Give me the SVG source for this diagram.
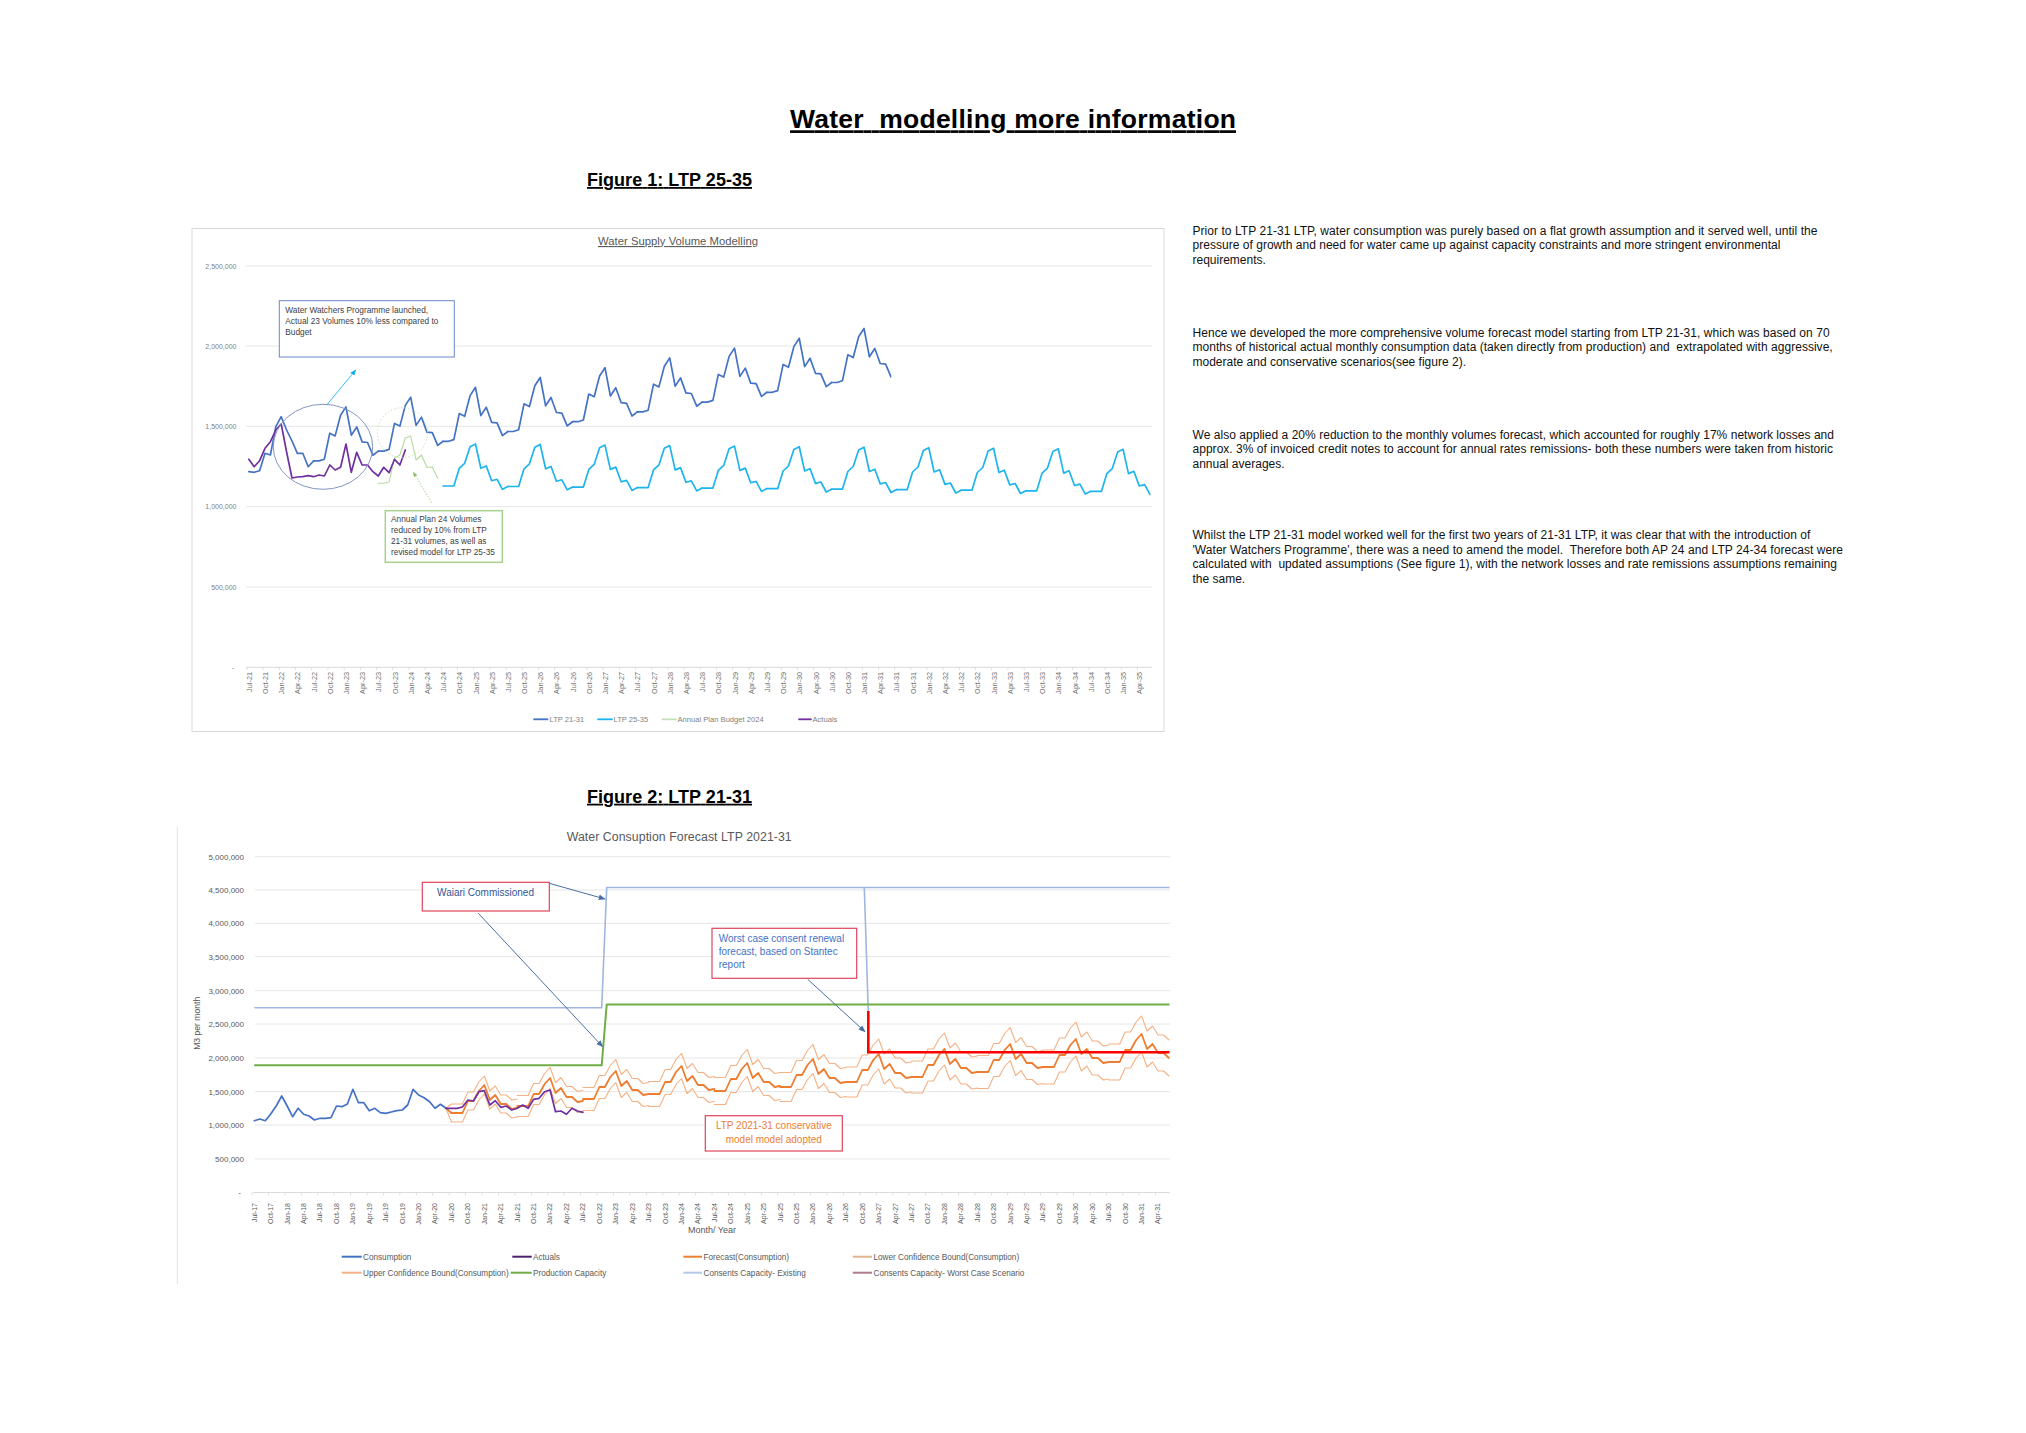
<svg xmlns="http://www.w3.org/2000/svg" width="2026" height="1433" viewBox="0 0 2026 1433">
<style>
text{font-family:"Liberation Sans",Arial,sans-serif;}
.h1{font-size:26.5px;font-weight:bold;text-decoration:underline;fill:#000;}
.cap{font-size:18px;font-weight:bold;text-decoration:underline;fill:#000;}
.body{font-size:12px;fill:#111;}
.yl1{font-size:7px;fill:#7F7F7F;text-anchor:end;}
.xl1{font-size:7.3px;fill:#6F6F6F;text-anchor:end;}
.yl2{font-size:8px;fill:#595959;text-anchor:end;}
.xl2{font-size:7px;fill:#595959;text-anchor:end;}
.lg1{font-size:7.6px;fill:#7F7F7F;}
.lg2{font-size:8.2px;fill:#595959;}
.grid{stroke:#E6E6E6;stroke-width:1;fill:none;}
.ln{fill:none;stroke-linejoin:round;stroke-linecap:round;}
.lb{stroke:#4472C4;stroke-width:1.7;}
.lc{stroke:#1EB4EE;stroke-width:1.7;}
.lgr{stroke:#B5D99C;stroke-width:1.1;}
.lp{stroke:#7030A0;stroke-width:1.7;}
.fc{stroke:#ED7D31;stroke-width:1.8;}
.ub{stroke:#F4B183;stroke-width:1.1;}
.an1{font-size:8.3px;fill:#404040;}
.an2{font-size:10px;}
.rbox{fill:#fff;stroke:#E0435A;stroke-width:1.2;}
.arr{stroke:#4A6FA5;stroke-width:1;fill:none;}
</style>
<defs>
<marker id="aC" markerUnits="userSpaceOnUse" markerWidth="6" markerHeight="6" viewBox="0 0 10 10" refX="9" refY="5" orient="auto"><path d="M0,1L10,5L0,9z" fill="#00B0F0"/></marker>
<marker id="aG" markerUnits="userSpaceOnUse" markerWidth="5" markerHeight="5" viewBox="0 0 10 10" refX="9" refY="5" orient="auto"><path d="M0,1L10,5L0,9z" fill="#8CC068"/></marker>
<marker id="aB" markerUnits="userSpaceOnUse" markerWidth="7" markerHeight="7" viewBox="0 0 10 10" refX="9" refY="5" orient="auto"><path d="M0,1L10,5L0,9z" fill="#4A6FA5"/></marker>
<path id="p1b" d="M0,54 L5.4,54 L10.79,52.3 L16.19,26.3 L21.59,29 L26.99,8.3 L32.38,0 L37.78,28.3 L43.18,20 L48.57,35 L53.97,35.6 L59.37,48.3 L64.76,44.2"/>
<path id="p1c" d="M0,42 L5.4,42 L10.79,42 L16.19,24.3 L21.59,19.3 L26.99,2.7 L32.38,0 L37.78,24.3 L43.18,22 L48.57,36.7 L53.97,35.3 L59.37,45.3 L64.76,42.5"/>
<path id="p2f" d="M0,28 L5.48,28 L10.95,28 L16.43,16 L21.91,16 L27.39,6 L32.86,0 L38.34,15 L43.82,10 L49.29,19 L54.77,19 L60.25,24 L65.72,23"/>
<clipPath id="cB1"><rect x="240" y="230" width="651.3" height="440"/></clipPath>
<clipPath id="cC1"><rect x="240" y="230" width="910.5" height="440"/></clipPath>
<clipPath id="cF2"><rect x="250" y="850" width="919.5" height="345"/></clipPath>
</defs>
<rect width="2026" height="1433" fill="#fff"/>

<g id="title">
<text class="h1" x="790" y="128.3" textLength="446" xml:space="preserve">Water  modelling more information</text>
</g>

<g id="fig1">
<text class="cap" x="587" y="186" textLength="165">Figure 1: LTP 25-35</text>
<rect x="192" y="228.5" width="972" height="503" fill="#fff" stroke="#D9D9D9" stroke-width="1"/>
<text x="678" y="245" font-size="11.3" fill="#595959" text-anchor="middle" text-decoration="underline" textLength="160">Water Supply Volume Modelling</text>
<g id="fig1-grid">
<path class="grid" d="M246,266H1152M246,346H1152M246,426.3H1152M246,506.7H1152M246,587H1152"/>
<line x1="246" y1="667.3" x2="1152" y2="667.3" stroke="#D9D9D9" stroke-width="1"/>
<line x1="246.6" y1="668.8" x2="1152" y2="668.8" stroke="#D9D9D9" stroke-width="3" stroke-dasharray="0.8 15.39"/>
</g>
<g id="fig1-ylabels">
<text class="yl1" x="236.5" y="268.5">2,500,000</text>
<text class="yl1" x="236.5" y="348.5">2,000,000</text>
<text class="yl1" x="236.5" y="428.8">1,500,000</text>
<text class="yl1" x="236.5" y="509.2">1,000,000</text>
<text class="yl1" x="236.5" y="589.5">500,000</text>
<text class="yl1" x="234" y="669.8">-</text>
</g>
<g id="fig1-xlabels" class="xl1" transform="rotate(-90)">
<text x="-672" y="251.8">Jul-21</text><text x="-672" y="268">Oct-21</text><text x="-672" y="284.2">Jan-22</text><text x="-672" y="300.4">Apr-22</text>
<text x="-672" y="316.6">Jul-22</text><text x="-672" y="332.8">Oct-22</text><text x="-672" y="348.9">Jan-23</text><text x="-672" y="365.1">Apr-23</text>
<text x="-672" y="381.3">Jul-23</text><text x="-672" y="397.5">Oct-23</text><text x="-672" y="413.7">Jan-24</text><text x="-672" y="429.9">Apr-24</text>
<text x="-672" y="446.1">Jul-24</text><text x="-672" y="462.3">Oct-24</text><text x="-672" y="478.5">Jan-25</text><text x="-672" y="494.6">Apr-25</text>
<text x="-672" y="510.8">Jul-25</text><text x="-672" y="527">Oct-25</text><text x="-672" y="543.2">Jan-26</text><text x="-672" y="559.4">Apr-26</text>
<text x="-672" y="575.6">Jul-26</text><text x="-672" y="591.8">Oct-26</text><text x="-672" y="608">Jan-27</text><text x="-672" y="624.2">Apr-27</text>
<text x="-672" y="640.4">Jul-27</text><text x="-672" y="656.5">Oct-27</text><text x="-672" y="672.7">Jan-28</text><text x="-672" y="688.9">Apr-28</text>
<text x="-672" y="705.1">Jul-28</text><text x="-672" y="721.3">Oct-28</text><text x="-672" y="737.5">Jan-29</text><text x="-672" y="753.7">Apr-29</text>
<text x="-672" y="769.9">Jul-29</text><text x="-672" y="786.1">Oct-29</text><text x="-672" y="802.3">Jan-30</text><text x="-672" y="818.5">Apr-30</text>
<text x="-672" y="834.6">Jul-30</text><text x="-672" y="850.8">Oct-30</text><text x="-672" y="867">Jan-31</text><text x="-672" y="883.2">Apr-31</text>
<text x="-672" y="899.4">Jul-31</text><text x="-672" y="915.6">Oct-31</text><text x="-672" y="931.8">Jan-32</text><text x="-672" y="948">Apr-32</text>
<text x="-672" y="964.2">Jul-32</text><text x="-672" y="980.4">Oct-32</text><text x="-672" y="996.5">Jan-33</text><text x="-672" y="1012.7">Apr-33</text>
<text x="-672" y="1028.9">Jul-33</text><text x="-672" y="1045.1">Oct-33</text><text x="-672" y="1061.3">Jan-34</text><text x="-672" y="1077.5">Apr-34</text>
<text x="-672" y="1093.7">Jul-34</text><text x="-672" y="1109.9">Oct-34</text><text x="-672" y="1126.1">Jan-35</text><text x="-672" y="1142.2">Apr-35</text>
</g>
<g id="fig1-series">
<g class="ln lc" clip-path="url(#cC1)">
<use href="#p1c" transform="translate(443.08,444)"/>
<use href="#p1c" transform="translate(507.84,444.5)"/>
<use href="#p1c" transform="translate(572.6,445.1)"/>
<use href="#p1c" transform="translate(637.36,445.6)"/>
<use href="#p1c" transform="translate(702.12,446.1)"/>
<use href="#p1c" transform="translate(766.88,446.7)"/>
<use href="#p1c" transform="translate(831.64,447.2)"/>
<use href="#p1c" transform="translate(896.4,447.7)"/>
<use href="#p1c" transform="translate(961.16,448.2)"/>
<use href="#p1c" transform="translate(1025.92,448.8)"/>
<use href="#p1c" transform="translate(1090.68,449.3)"/>
</g>
<polyline class="ln lgr" points="378.3,483.3 383.7,483.3 389.1,482 394.5,458 399.9,455 405.3,438 410.7,436 416.1,460 421.5,455 426.9,467.3 432.3,467 437.7,478.3"/>
<g class="ln lb" clip-path="url(#cB1)">
<polyline points="248.8,471.7 254.2,472.3 259.6,470.7 265,453.3 270.4,455 275.8,426.7 281.2,416.7 286.6,430 292,441 297.4,453.3 302.8,453.3 308.2,466.7 313.6,461"/>
<use href="#p1b" transform="translate(313.56,406.9)"/>
<use href="#p1b" transform="translate(378.32,397.1)"/>
<use href="#p1b" transform="translate(443.08,387.3)"/>
<use href="#p1b" transform="translate(507.84,377.5)"/>
<use href="#p1b" transform="translate(572.6,367.7)"/>
<use href="#p1b" transform="translate(637.36,357.9)"/>
<use href="#p1b" transform="translate(702.12,348.1)"/>
<use href="#p1b" transform="translate(766.88,338.3)"/>
<use href="#p1b" transform="translate(831.64,328.5)"/>
</g>
<polyline class="ln lp" points="248.8,459.3 254.2,466.7 259.6,460.7 265,448.3 270.4,441.7 275.8,430 281.2,424 286.6,452 292,478 297.4,477 302.8,476.7 308.2,475.7 313.6,476.7 319,475 324.4,476 329.8,465 335.2,470 340.6,467.3 346,444 351.3,472.3 356.7,452.3 362.1,465 367.5,465 372.9,471.7 378.3,476 383.7,467.3 389.1,472.7 394.5,459.3 399.9,465 405.3,450"/>
</g>
<g id="fig1-legend">
<line x1="533.3" y1="719.3" x2="548.3" y2="719.3" stroke="#4472C4" stroke-width="1.8"/>
<text class="lg1" x="549.5" y="722">LTP 21-31</text>
<line x1="597.3" y1="719.3" x2="612.7" y2="719.3" stroke="#1EB4EE" stroke-width="1.8"/>
<text class="lg1" x="613.5" y="722">LTP 25-35</text>
<line x1="661.7" y1="719.3" x2="676.7" y2="719.3" stroke="#C5E0B4" stroke-width="1.8"/>
<text class="lg1" x="677.5" y="722">Annual Plan Budget 2024</text>
<line x1="798.3" y1="719.3" x2="811.7" y2="719.3" stroke="#7030A0" stroke-width="1.8"/>
<text class="lg1" x="812.5" y="722">Actuals</text>
</g>
<g id="fig1-highlight">
<ellipse cx="323" cy="446.8" rx="49.7" ry="42.5" fill="none" stroke="#8496C0" stroke-width="1"/>
<circle cx="402.5" cy="432.7" r="25" fill="none" stroke="#C9E2B5" stroke-width="1" stroke-dasharray="1.5 2"/>
</g>
<g id="note-water-watchers">
<rect x="279.3" y="300.7" width="175" height="56.3" fill="#fff" stroke="#6A86C6" stroke-width="1"/>
<text class="an1" x="285.3" y="312.5">Water Watchers Programme launched,</text>
<text class="an1" x="285.3" y="323.5">Actual 23 Volumes 10% less compared to</text>
<text class="an1" x="285.3" y="334.5">Budget</text>
</g>
<g id="note-annual-plan">
<rect x="385.3" y="510.7" width="117" height="51.6" fill="#fff" stroke="#A9D18E" stroke-width="1.5"/>
<text class="an1" x="391" y="522" font-size="8.2">Annual Plan 24 Volumes</text>
<text class="an1" x="391" y="533" font-size="8.2">reduced by 10% from LTP</text>
<text class="an1" x="391" y="544" font-size="8.2">21-31 volumes, as well as</text>
<text class="an1" x="391" y="555" font-size="8.2">revised model for LTP 25-35</text>
</g>
</g>

<g id="fig2">
<text class="cap" x="587" y="802.7" textLength="165">Figure 2: LTP 21-31</text>
<line x1="177.3" y1="826.7" x2="177.3" y2="1284" stroke="#E3E3E3" stroke-width="1"/>
<text x="566.7" y="841" font-size="12.3" fill="#595959" textLength="225">Water Consuption Forecast LTP 2021-31</text>
<g id="fig2-grid">
<path class="grid" d="M255,856.7H1170M255,890H1170M255,923.3H1170M255,956.7H1170M255,990.7H1170M255,1024H1170M255,1058H1170M255,1091.7H1170M255,1125H1170M255,1159H1170"/>
<line x1="253" y1="1192.6" x2="1170" y2="1192.6" stroke="#D9D9D9" stroke-width="1"/>
<line x1="251.6" y1="1194" x2="1170" y2="1194" stroke="#D9D9D9" stroke-width="3" stroke-dasharray="0.8 15.63"/>
</g>
<g id="fig2-ylabels">
<text class="yl2" x="244" y="859.5">5,000,000</text>
<text class="yl2" x="244" y="892.8">4,500,000</text>
<text class="yl2" x="244" y="926.1">4,000,000</text>
<text class="yl2" x="244" y="959.5">3,500,000</text>
<text class="yl2" x="244" y="993.5">3,000,000</text>
<text class="yl2" x="244" y="1026.8">2,500,000</text>
<text class="yl2" x="244" y="1060.8">2,000,000</text>
<text class="yl2" x="244" y="1094.5">1,500,000</text>
<text class="yl2" x="244" y="1127.8">1,000,000</text>
<text class="yl2" x="244" y="1161.8">500,000</text>
<text class="yl2" x="241" y="1195.4">-</text>
<text x="0" y="0" font-size="8.6" fill="#595959" text-anchor="middle" transform="translate(199.5,1023.3) rotate(-90)">M3 per month</text>
</g>
<g id="fig2-xlabels" class="xl2" transform="rotate(-90)">
<text x="-1203" y="256.7">Jul-17</text><text x="-1203" y="273.1">Oct-17</text><text x="-1203" y="289.6">Jan-18</text><text x="-1203" y="306">Apr-18</text>
<text x="-1203" y="322.4">Jul-18</text><text x="-1203" y="338.9">Oct-18</text><text x="-1203" y="355.3">Jan-19</text><text x="-1203" y="371.7">Apr-19</text>
<text x="-1203" y="388.1">Jul-19</text><text x="-1203" y="404.6">Oct-19</text><text x="-1203" y="421">Jan-20</text><text x="-1203" y="437.4">Apr-20</text>
<text x="-1203" y="453.9">Jul-20</text><text x="-1203" y="470.3">Oct-20</text><text x="-1203" y="486.7">Jan-21</text><text x="-1203" y="503.2">Apr-21</text>
<text x="-1203" y="519.6">Jul-21</text><text x="-1203" y="536">Oct-21</text><text x="-1203" y="552.4">Jan-22</text><text x="-1203" y="568.9">Apr-22</text>
<text x="-1203" y="585.3">Jul-22</text><text x="-1203" y="601.7">Oct-22</text><text x="-1203" y="618.2">Jan-23</text><text x="-1203" y="634.6">Apr-23</text>
<text x="-1203" y="651">Jul-23</text><text x="-1203" y="667.5">Oct-23</text><text x="-1203" y="683.9">Jan-24</text><text x="-1203" y="700.3">Apr-24</text>
<text x="-1203" y="716.7">Jul-24</text><text x="-1203" y="733.2">Oct-24</text><text x="-1203" y="749.6">Jan-25</text><text x="-1203" y="766">Apr-25</text>
<text x="-1203" y="782.5">Jul-25</text><text x="-1203" y="798.9">Oct-25</text><text x="-1203" y="815.3">Jan-26</text><text x="-1203" y="831.8">Apr-26</text>
<text x="-1203" y="848.2">Jul-26</text><text x="-1203" y="864.6">Oct-26</text><text x="-1203" y="881">Jan-27</text><text x="-1203" y="897.5">Apr-27</text>
<text x="-1203" y="913.9">Jul-27</text><text x="-1203" y="930.3">Oct-27</text><text x="-1203" y="946.8">Jan-28</text><text x="-1203" y="963.2">Apr-28</text>
<text x="-1203" y="979.6">Jul-28</text><text x="-1203" y="996.1">Oct-28</text><text x="-1203" y="1012.5">Jan-29</text><text x="-1203" y="1028.9">Apr-29</text>
<text x="-1203" y="1045.3">Jul-29</text><text x="-1203" y="1061.8">Oct-29</text><text x="-1203" y="1078.2">Jan-30</text><text x="-1203" y="1094.6">Apr-30</text>
<text x="-1203" y="1111.1">Jul-30</text><text x="-1203" y="1127.5">Oct-30</text><text x="-1203" y="1143.9">Jan-31</text><text x="-1203" y="1160.4">Apr-31</text>
</g>
<text x="712" y="1233" font-size="9" fill="#595959" text-anchor="middle">Month/ Year</text>
<g id="fig2-series" clip-path="url(#cF2)">
<g class="ln ub">
<polyline points="446,1108.3 451.5,1104"/>
<polyline points="446,1108.3 451.5,1122"/>
<use href="#p2f" transform="translate(451.5,1076)"/>
<use href="#p2f" transform="translate(517.22,1067.5)"/>
<use href="#p2f" transform="translate(582.95,1059.5)"/>
<use href="#p2f" transform="translate(648.67,1053.5)"/>
<use href="#p2f" transform="translate(714.4,1049.5)"/>
<use href="#p2f" transform="translate(780.12,1044.5)"/>
<use href="#p2f" transform="translate(845.84,1039)"/>
<use href="#p2f" transform="translate(911.57,1033)"/>
<use href="#p2f" transform="translate(977.29,1027.5)"/>
<use href="#p2f" transform="translate(1043.02,1022)"/>
<use href="#p2f" transform="translate(1108.74,1016)"/>
<use href="#p2f" transform="translate(451.5,1094)"/>
<use href="#p2f" transform="translate(517.22,1088.5)"/>
<use href="#p2f" transform="translate(582.95,1082.5)"/>
<use href="#p2f" transform="translate(648.67,1078.5)"/>
<use href="#p2f" transform="translate(714.4,1076.5)"/>
<use href="#p2f" transform="translate(780.12,1073.5)"/>
<use href="#p2f" transform="translate(845.84,1069)"/>
<use href="#p2f" transform="translate(911.57,1065)"/>
<use href="#p2f" transform="translate(977.29,1060.5)"/>
<use href="#p2f" transform="translate(1043.02,1056)"/>
<use href="#p2f" transform="translate(1108.74,1052)"/>
</g>
<g class="ln fc">
<polyline points="446,1108.3 451.5,1113"/>
<use href="#p2f" transform="translate(451.5,1085)"/>
<use href="#p2f" transform="translate(517.22,1078)"/>
<use href="#p2f" transform="translate(582.95,1071)"/>
<use href="#p2f" transform="translate(648.67,1066)"/>
<use href="#p2f" transform="translate(714.4,1063)"/>
<use href="#p2f" transform="translate(780.12,1059)"/>
<use href="#p2f" transform="translate(845.84,1054)"/>
<use href="#p2f" transform="translate(911.57,1049)"/>
<use href="#p2f" transform="translate(977.29,1044)"/>
<use href="#p2f" transform="translate(1043.02,1039)"/>
<use href="#p2f" transform="translate(1108.74,1034)"/>
</g>
<polyline class="ln lb" points="254.3,1120.7 259.8,1119 265.3,1120.7 270.7,1114 276.2,1106 281.7,1096 287.2,1106 292.6,1116.7 298.1,1108.3 303.6,1114.3 309.1,1116 314.5,1120 320,1118.3 325.5,1118.3 331,1117.7 336.5,1106 341.9,1106.7 347.4,1104 352.9,1089.3 358.4,1102.7 363.8,1102.7 369.3,1110.7 374.8,1108.3 380.3,1112.7 385.8,1113.3 391.2,1112 396.7,1110.7 402.2,1110 407.7,1105 413.1,1089.3 418.6,1095 424.1,1097.7 429.6,1101.7 435,1108.3 440.5,1104.3 446,1108.3"/>
<polyline class="ln lp" points="446,1108.3 451.5,1108.3 457,1108.3 462.4,1107 467.9,1100 473.4,1101 478.9,1091.7 484.3,1090.7 489.8,1105 495.3,1100.7 500.8,1107.3 506.3,1106 511.7,1110 517.2,1108.3 522.7,1105 528.2,1108.3 533.6,1099.3 539.1,1098.3 544.6,1091.7 550.1,1090 555.5,1111.7 561,1111 566.5,1114.3 572,1108.3 577.4,1111 582.9,1112.3"/>
<path class="ln" d="M255,1007.7H601.7L606.7,887.5H1170" stroke="#9EB6E0" stroke-width="1.6"/>
<path class="ln" d="M864.3,887.5L868.3,1013" stroke="#9EB6E0" stroke-width="1.6"/>
<path class="ln" d="M255,1065.3H601.7L606.7,1004.5H1170" stroke="#70AD47" stroke-width="2"/>
<path d="M868.3,1011V1052.3H1170" fill="none" stroke="#FF0000" stroke-width="2.6"/>
</g>
<g id="fig2-legend">
<line x1="341.7" y1="1256.7" x2="361.7" y2="1256.7" stroke="#4472C4" stroke-width="2"/>
<text class="lg2" x="363" y="1259.5">Consumption</text>
<line x1="512.3" y1="1256.7" x2="531.7" y2="1256.7" stroke="#4B2070" stroke-width="2"/>
<text class="lg2" x="533" y="1259.5">Actuals</text>
<line x1="683.4" y1="1256.7" x2="702" y2="1256.7" stroke="#ED7D31" stroke-width="2"/>
<text class="lg2" x="703.5" y="1259.5">Forecast(Consumption)</text>
<line x1="852.8" y1="1256.7" x2="872" y2="1256.7" stroke="#E2B58F" stroke-width="2"/>
<text class="lg2" x="873.5" y="1259.5">Lower Confidence Bound(Consumption)</text>
<line x1="341.7" y1="1272.7" x2="361.7" y2="1272.7" stroke="#F4B183" stroke-width="2"/>
<text class="lg2" x="363" y="1275.5">Upper Confidence Bound(Consumption)</text>
<line x1="510.7" y1="1272.7" x2="531.7" y2="1272.7" stroke="#70AD47" stroke-width="2"/>
<text class="lg2" x="533" y="1275.5">Production Capacity</text>
<line x1="683.4" y1="1272.7" x2="702" y2="1272.7" stroke="#B4C7E7" stroke-width="2"/>
<text class="lg2" x="703.5" y="1275.5">Consents Capacity- Existing</text>
<line x1="852.8" y1="1272.7" x2="872" y2="1272.7" stroke="#B07C8C" stroke-width="2"/>
<text class="lg2" x="873.5" y="1275.5">Consents Capacity- Worst Case Scenario</text>
</g>
<g id="note-waiari">
<rect class="rbox" x="422.3" y="882.3" width="127" height="28.7"/>
<text class="an2" x="485.5" y="895.8" fill="#2F5597" text-anchor="middle">Waiari Commissioned</text>
</g>
<g id="note-worst-case">
<rect class="rbox" x="712" y="928.3" width="144.7" height="50"/>
<text class="an2" x="718.7" y="941.8" fill="#4472C4">Worst case consent renewal</text>
<text class="an2" x="718.7" y="955.2" fill="#4472C4">forecast, based on Stantec</text>
<text class="an2" x="718.7" y="968.2" fill="#4472C4">report</text>
</g>
<g id="note-conservative">
<rect class="rbox" x="705.3" y="1115.7" width="137" height="35.3"/>
<text class="an2" x="773.8" y="1129.2" fill="#ED7D31" text-anchor="middle">LTP 2021-31 conservative</text>
<text class="an2" x="773.8" y="1142.8" fill="#ED7D31" text-anchor="middle">model model adopted</text>
</g>
</g>

<g id="connectors">
<line x1="326.7" y1="405" x2="355.7" y2="370" stroke="#00B0F0" stroke-width="0.8" marker-end="url(#aC)"/>
<line x1="431.7" y1="502.7" x2="413.3" y2="472.3" stroke="#A9D18E" stroke-width="1" stroke-dasharray="1.5 1.5" marker-end="url(#aG)"/>
<line class="arr" x1="549.3" y1="883.3" x2="605" y2="899" marker-end="url(#aB)"/>
<line class="arr" x1="478.3" y1="913.3" x2="602.7" y2="1046.7" marker-end="url(#aB)"/>
<line class="arr" x1="807.7" y1="979.3" x2="865" y2="1031.7" marker-end="url(#aB)"/>
</g>

<g id="text-right" class="body">
<text x="1192.5" y="235" textLength="625" lengthAdjust="spacing">Prior to LTP 21-31 LTP, water consumption was purely based on a flat growth assumption and it served well, until the</text>
<text x="1192.5" y="249.3" textLength="587.9" lengthAdjust="spacing">pressure of growth and need for water came up against capacity constraints and more stringent environmental</text>
<text x="1192.5" y="264.3">requirements.</text>
<text x="1192.5" y="336.6" textLength="637.1" lengthAdjust="spacing">Hence we developed the more comprehensive volume forecast model starting from LTP 21-31, which was based on 70</text>
<text x="1192.5" y="351" textLength="640.2" lengthAdjust="spacing" xml:space="preserve">months of historical actual monthly consumption data (taken directly from production) and  extrapolated with aggressive,</text>
<text x="1192.5" y="366">moderate and conservative scenarios(see figure 2).</text>
<text x="1192.5" y="438.6" textLength="641.5" lengthAdjust="spacing">We also applied a 20% reduction to the monthly volumes forecast, which accounted for roughly 17% network losses and</text>
<text x="1192.5" y="453.3" textLength="640.5" lengthAdjust="spacing">approx. 3% of invoiced credit notes to account for annual rates remissions- both these numbers were taken from historic</text>
<text x="1192.5" y="468.3">annual averages.</text>
<text x="1192.5" y="538.6" textLength="617.9" lengthAdjust="spacing">Whilst the LTP 21-31 model worked well for the first two years of 21-31 LTP, it was clear that with the introduction of</text>
<text x="1192.5" y="553.6" textLength="650.5" lengthAdjust="spacing" xml:space="preserve">'Water Watchers Programme', there was a need to amend the model.  Therefore both AP 24 and LTP 24-34 forecast were</text>
<text x="1192.5" y="568.3" textLength="644.5" lengthAdjust="spacing" xml:space="preserve">calculated with  updated assumptions (See figure 1), with the network losses and rate remissions assumptions remaining</text>
<text x="1192.5" y="582.6">the same.</text>
</g>
</svg>
